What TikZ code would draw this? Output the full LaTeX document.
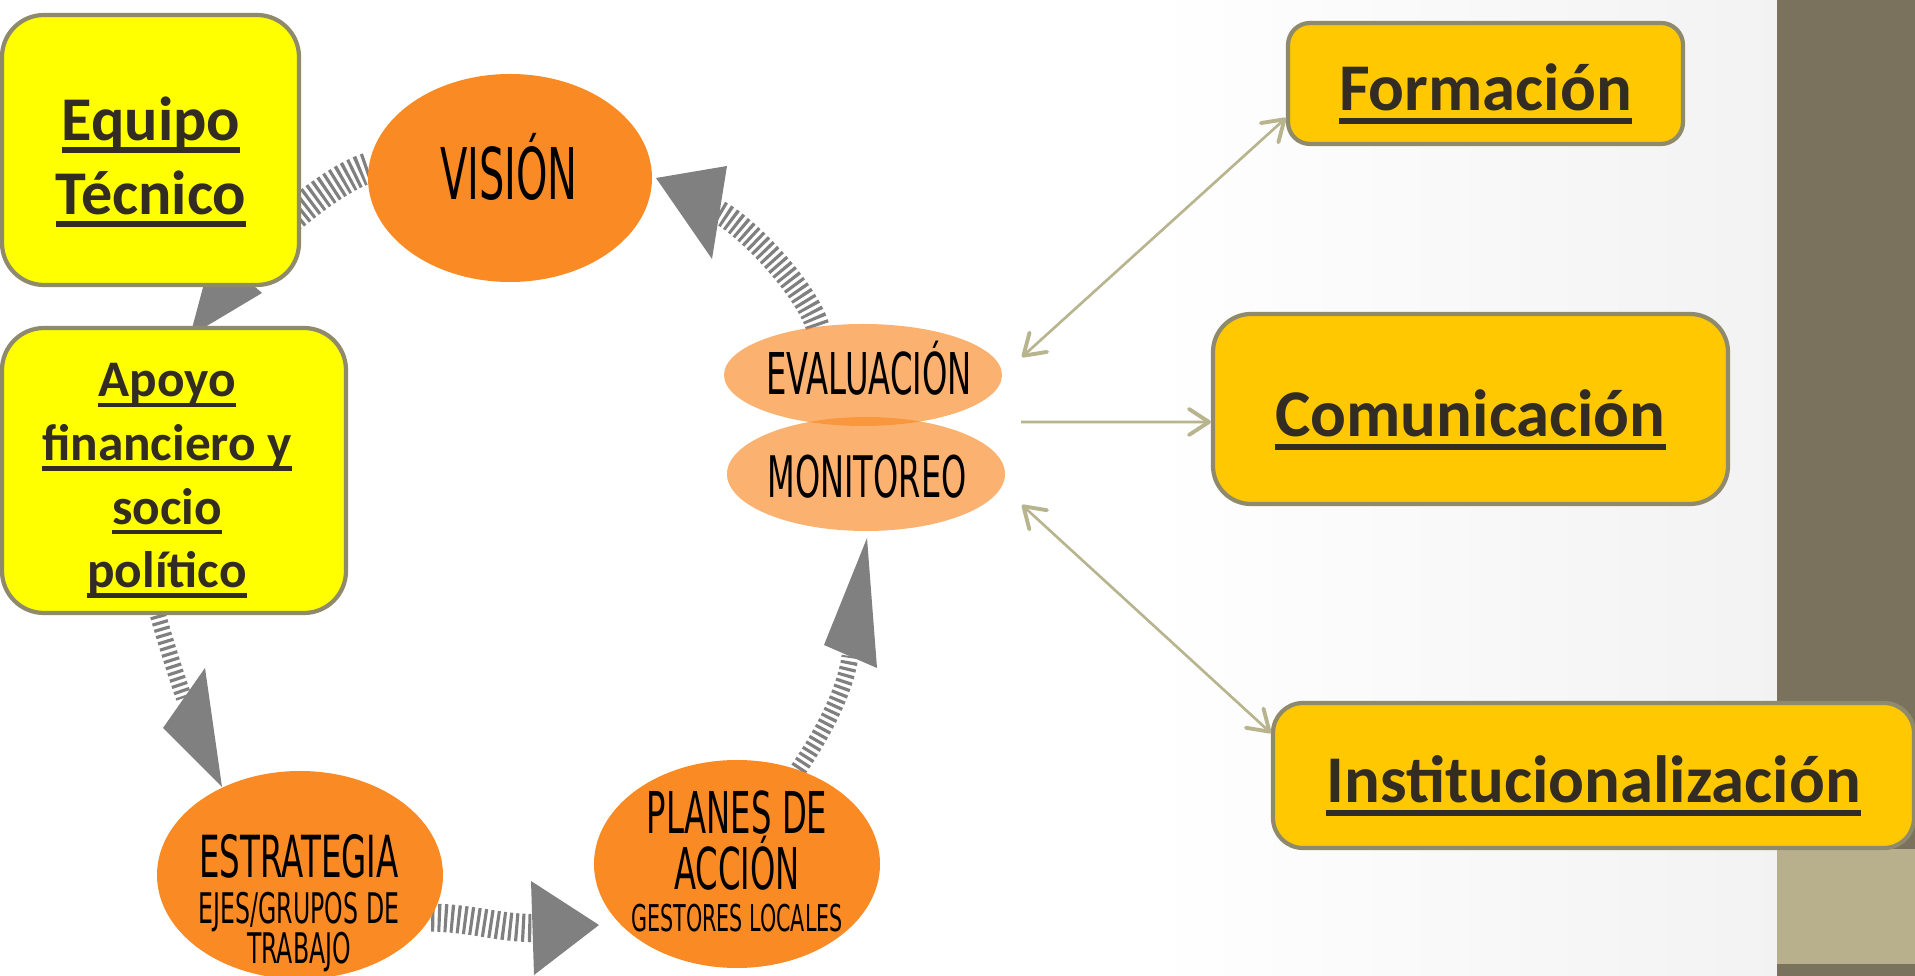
\documentclass[tikz,border=0pt]{standalone}
\usepackage{fontspec}
\setmainfont{Carlito}
\newfontfamily\ovalfont[FakeStretch=0.56]{DejaVu Sans}
\usetikzlibrary{shapes.geometric,arrows.meta}

\definecolor{ovalorange}{RGB}{249,138,36}
\definecolor{cyclegray}{RGB}{128,128,128}
\definecolor{boxyellow}{RGB}{255,255,0}
\definecolor{boxgold}{RGB}{255,200,0}
\definecolor{boxline}{RGB}{143,138,108}
\definecolor{boxtext}{RGB}{51,44,34}
\definecolor{linktan}{RGB}{184,180,142}
\definecolor{bardark}{RGB}{122,114,92}
\definecolor{barlight}{RGB}{184,176,140}

% underline set under the descenders
\newcommand\ulword[1]{\leavevmode\setbox0\hbox{#1}\rlap{\rule[-0.2em]{\wd0}{0.09em}}\box0}

\pgfdeclarelayer{bg}
\pgfdeclarelayer{under}
\pgfsetlayers{bg,under,main}

\tikzset{
  inbox/.style={draw=boxline, line width=1.2pt, inner sep=0pt},
  leftbox/.style={inbox, fill=boxyellow, rounded corners=4.2mm},
  rightbox/.style={inbox, fill=boxgold, text=boxtext, text height=15.5pt, text depth=0pt,
    font=\bfseries\fontsize{19pt}{22pt}\selectfont},
  leftlabel/.style={inner sep=0pt, align=center, text=boxtext, anchor=north},
  oval/.style={ellipse, fill=ovalorange, inner sep=0pt},
  paleoval/.style={oval, fill opacity=0.65},
  ovallabel/.style={inner sep=0pt, align=center, text=black},
  shaft/.style={draw=cyclegray, dash pattern=on 0.9pt off 0.95pt},
  link/.style={draw=linktan, line width=0.75pt,
    >={Straight Barb[length=2mm,width=2.6mm,line width=1.1pt,round]}}
}

\begin{document}
\begin{tikzpicture}[x=0.1mm, y=-0.1mm]
    \useasboundingbox (0,0) rectangle (1915,976);

    \begin{pgfonlayer}{bg}
        \fill [white] (0,0) rectangle (1777,976);
        \shade [left color=white, right color=black!5] (1150,0) rectangle (1777,976);
        \fill [bardark] (1777,0) rectangle (1915,849);
        \fill [barlight] (1777,849) rectangle (1915,964);
        \fill [bardark] (1777,964) rectangle (1915,976);
    \end{pgfonlayer}

    % cycle
    \node [oval, minimum width=28.4mm, minimum height=20.8mm] (vision) at (510,178) {};
    \node [paleoval, minimum width=27.8mm, minimum height=10.2mm] (evaluacion) at (863,375) {};
    \node [paleoval, minimum width=27.8mm, minimum height=11.4mm] (monitoreo) at (866,474) {};
    \node [oval, minimum width=28.6mm, minimum height=20.8mm] (estrategia) at (300,875) {};
    \node [oval, minimum width=28.6mm, minimum height=20.8mm] (planes) at (737,864) {};

    \node [ovallabel, anchor=base, font=\ovalfont\fontsize{20.3pt}{24pt}\selectfont] (vision-t) at (509,200) {VISIÓN};
    \node [ovallabel, anchor=base, font=\ovalfont\fontsize{16.4pt}{20pt}\selectfont] (evaluacion-t) at (869,395) {EVALUACIÓN};
    \node [ovallabel, anchor=base, font=\ovalfont\fontsize{16.3pt}{20pt}\selectfont] (monitoreo-t) at (867,498) {MONITOREO};
    \node [ovallabel, anchor=north, font=\ovalfont\fontsize{16.5pt}{13.1pt}\selectfont] (estrategia-t) at (299,834)
        {ESTRATEGIA\\\fontsize{12pt}{13.1pt}\selectfont EJES/GRUPOS DE\\[-1.7pt]\fontsize{12pt}{13.1pt}\selectfont TRABAJO};
    \node [ovallabel, anchor=north, font=\ovalfont\fontsize{16.4pt}{15.9pt}\selectfont] (planes-t) at (737,790)
        {PLANES DE\\ACCIÓN\\[-4pt]\fontsize{10.5pt}{15.9pt}\selectfont GESTORES LOCALES};

    % boxes
    \node [leftbox, minimum width=29.7mm, minimum height=27mm] (equipo) at (150.5,150) {};
    \node [leftbox, minimum width=34.4mm, minimum height=28.5mm] (apoyo) at (174,470.5) {};
    \node [leftlabel, font=\bfseries\fontsize{17.7pt}{21pt}\selectfont] (equipo-t) at (151,96)
        {\ulword{Equipo}\\\ulword{Técnico}};
    \node [leftlabel, font=\bfseries\fontsize{14.6pt}{18.1pt}\selectfont] (apoyo-t) at (167,363)
        {\ulword{Apoyo}\\\ulword{financiero y}\\\ulword{socio}\\\ulword{político}};

    \node [rightbox, rounded corners=2.2mm, minimum width=39.5mm, minimum height=12.1mm] (formacion) at (1485.5,83.5) {\ulword{Formación}};
    \node [rightbox, rounded corners=3.8mm, minimum width=51.5mm, minimum height=19mm] (comunicacion) at (1470.5,409) {\ulword{Comunicación}};
    \node [rightbox, rounded corners=3mm, minimum width=64.1mm, minimum height=14.5mm] (institucion) at (1593.5,775.5) {\ulword{Institucionalización}};

    % striped arrows round the cycle
    \coordinate (head-a) at (237,272);
    \coordinate (head-b) at (184,698);
    \coordinate (head-c) at (532,928);
    \coordinate (head-d) at (850,656);
    \coordinate (head-e) at (719,212);
    \begin{pgfonlayer}{under}
        \draw [shaft, line width=8.8pt] (vision.176) .. controls (330,180) and (261,239) .. (head-a);
        \fill [cyclegray] (190,336) -- (262,293) -- (213,250) -- cycle;
        \draw [shaft, line width=4.6pt] ([xshift=-1.6mm]apoyo.south) .. controls (165,640) and (176,675) .. (head-b);
        \fill [cyclegray] (222,787) -- (205,668) -- (163,728) -- cycle;
        \draw [shaft, line width=8pt] (estrategia.-18) .. controls (470,918) and (500,928) .. (head-c);
        \fill [cyclegray] (599,925) -- (531,881) -- (534,975) -- cycle;
        \draw [shaft, line width=4.8pt] (planes.57) .. controls (815,745) and (845,696) .. (head-d);
        \fill [cyclegray] (867,538) -- (824,645) -- (877,668) -- cycle;
        \draw [shaft, line width=6.8pt] (evaluacion.133) .. controls (806,290) and (751,230) .. (head-e);
        \fill [cyclegray] (656,178) -- (727,166) -- (712,259) -- cycle;
    \end{pgfonlayer}

    % links to the right boxes
    \coordinate (hub-up) at (1022,357);
    \coordinate (hub-mid) at (1021,422);
    \coordinate (hub-low) at (1022,505);
    \draw [link, <->] (hub-up) -- ([yshift=-3.45mm]formacion.west);
    \draw [link, ->] (hub-mid) -- ([yshift=-1.3mm]comunicacion.west);
    \draw [link, <->] (hub-low) -- ([yshift=4.25mm]institucion.west);
\end{tikzpicture}
\end{document}
